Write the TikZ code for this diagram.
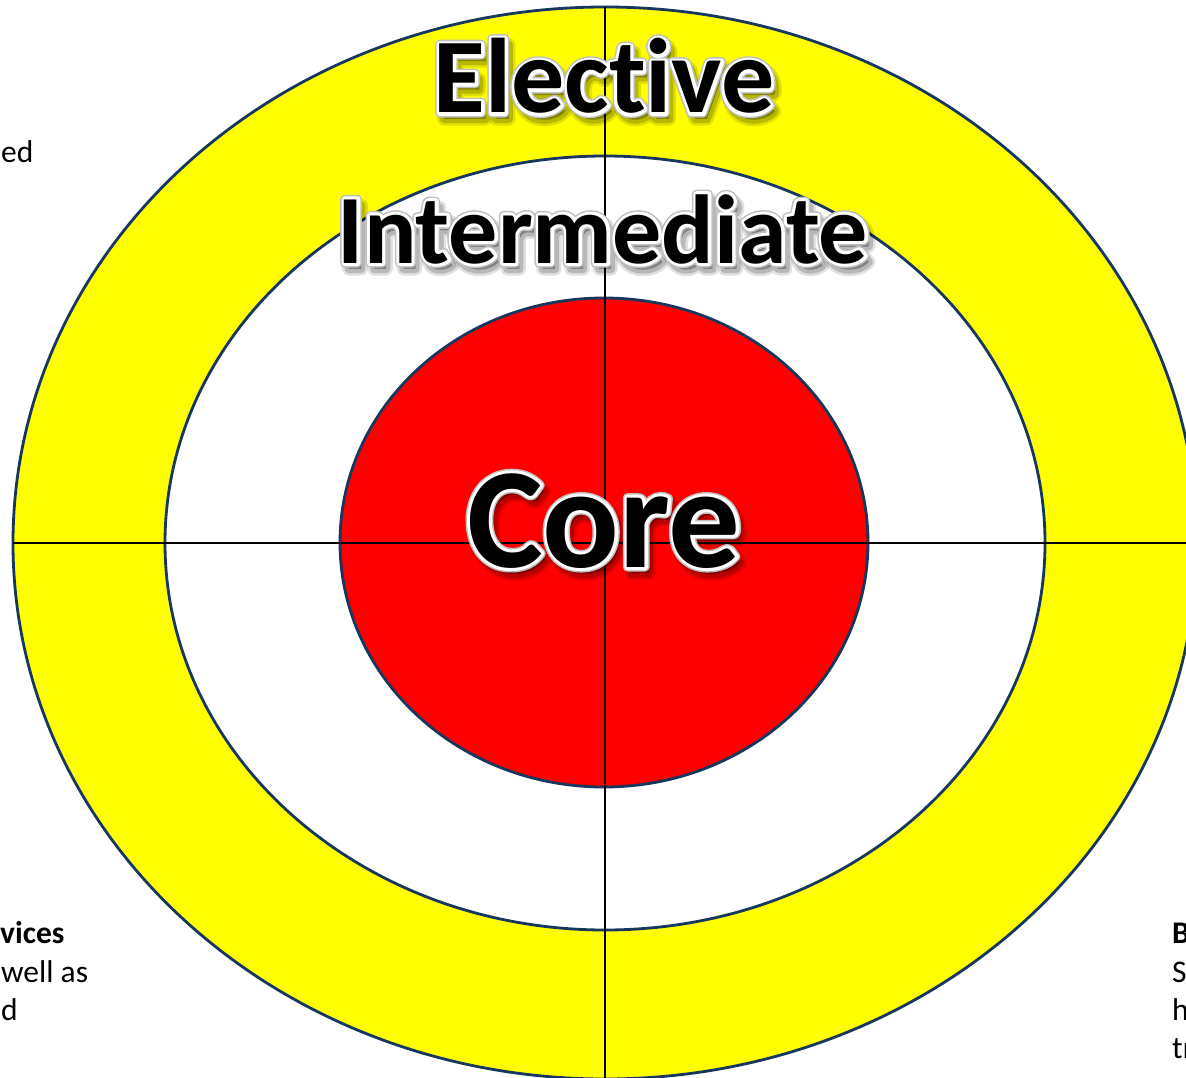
\documentclass[tikz,border=0pt]{standalone}
\usepackage{fontspec}
\setmainfont{Carlito}[Ligatures=NoCommon]
\usetikzlibrary{calc}
\definecolor{ringline}{HTML}{17375E}
\definecolor{tyellow}{HTML}{FFFF00}
\definecolor{tred}{HTML}{FF0000}
\newcommand{\strk}[1]{\special{pdf:literal direct 2 Tr #1 w 1 j}}
\newcommand{\unstrk}{\special{pdf:literal direct 0 Tr}}
\tikzset{
  ring/.style={draw=ringline, line width=2.8pt},
  axisline/.style={draw=black, line width=2pt},
  bigtxt/.style={anchor=base, inner sep=0pt},
  sidetxt/.style={anchor=base west, inner sep=0pt, font=\fontsize{31.5}{39}\selectfont},
  sidebold/.style={anchor=base west, inner sep=0pt, font=\bfseries\fontsize{31.5}{39}\selectfont},
}
\newcommand{\bigword}[5]{%
  \node[bigtxt, font=\bfseries\fontsize{#4}{#4}\selectfont, text=black, opacity=0.12] (#1s1) at (#2+4,#3+6) {\strk{13}#5\unstrk};
  \node[bigtxt, font=\bfseries\fontsize{#4}{#4}\selectfont, text=black, opacity=0.18] (#1s2) at (#2+4,#3+6) {\strk{8}#5\unstrk};
  \node[bigtxt, font=\bfseries\fontsize{#4}{#4}\selectfont, text=black!25] (#1h1) at (#2,#3) {\strk{9}#5\unstrk};
  \node[bigtxt, font=\bfseries\fontsize{#4}{#4}\selectfont, text=white] (#1h2) at (#2,#3) {\strk{6}#5\unstrk};
  \node[bigtxt, font=\bfseries\fontsize{#4}{#4}\selectfont, text=black] (#1) at (#2,#3) {#5};
}
\begin{document}
\begin{tikzpicture}[x=1pt, y=-1pt]
  \useasboundingbox (0,0) rectangle (1186,1078);
  \fill[white] (0,0) rectangle (1186,1078);
  \draw[ring, fill=tyellow] (605,543) ellipse [x radius=592, y radius=536];
  \draw[ring, fill=white] (605,543) ellipse [x radius=440, y radius=387];
  \draw[ring, fill=tred] (604,542.5) ellipse [x radius=264, y radius=244.5];
  \coordinate (vt) at (605,7);
  \coordinate (vb) at (605,1078);
  \coordinate (hl) at (13,543);
  \coordinate (hr) at (1186,543);
  \draw[axisline] (vt) -- (vb);
  \draw[axisline] (hl) -- (hr);
  \bigword{elective}{604}{113}{106}{Elective}
  \bigword{intermediate}{603}{263}{98}{Intermediate}
  \bigword{core}{604}{567}{143}{Core}
  \node[sidetxt] (ed) at (1,162.5) {ed};
  \node[sidebold] (vices) at (0,943) {vices};
  \node[sidetxt] (wellas) at (1,982) {well as};
  \node[sidetxt] (dd) at (1,1020) {d};
  \node[sidebold] (bb) at (1172,943) {B};
  \node[sidetxt] (ss) at (1172,982) {S};
  \node[sidetxt] (hh) at (1172,1020) {h};
  \node[sidetxt] (tr) at (1172,1058) {tr};
\end{tikzpicture}
\end{document}
